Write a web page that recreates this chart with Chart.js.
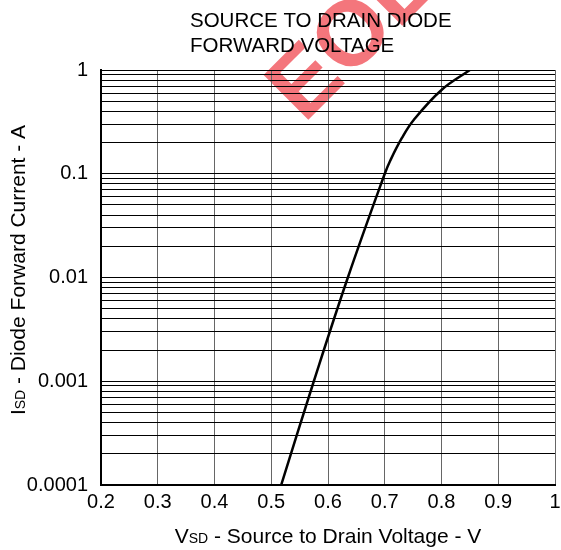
<!DOCTYPE html>
<html>
<head>
<meta charset="utf-8">
<script src="https://cdn.jsdelivr.net/npm/chart.js@4"></script>
<style>
  body { margin: 0; background: #fff; }
  #wrap { width: 561px; height: 550px; }
</style>
</head>
<body>
<div id="wrap"><canvas id="chart1"></canvas></div>
<script>
// data
const vsd = [0.5175, 0.575, 0.635, 0.700, 0.710, 0.730, 0.751, 0.800, 0.850];
const isd = [0.0001, 0.001, 0.01, 0.1, 0.135, 0.22, 0.33, 0.642, 1];
const xTicks = [0.2, 0.3, 0.4, 0.5, 0.6, 0.7, 0.8, 0.9, 1];
const yDecades = [0.0001, 0.001, 0.01, 0.1, 1];
const yLabels = ["0.0001", "0.001", "0.01", "0.1", "1"];

const FONT = "'Liberation Sans', Arial, sans-serif";

// minor ticks for log grid
const yGrid = [];
yDecades.forEach(function (d, i) {
  if (i == yDecades.length - 1) { yGrid.push(d); return; }
  for (let k = 1; k < 10; k++) yGrid.push(+(d * k).toPrecision(3));
});

function isDecade(v) {
  const l = Math.log10(v);
  return Math.abs(l - Math.round(l)) < 1e-6;
}

function drawParts(c, parts, x, y) {
  parts.forEach(function (p) {
    c.font = p[1] + "px " + FONT;
    c.fillText(p[0], x, y);
    x += c.measureText(p[0]).width;
  });
}
function partsWidth(c, parts) {
  let w = 0;
  parts.forEach(function (p) { c.font = p[1] + "px " + FONT; w += c.measureText(p[0]).width; });
  return w;
}

// #TEXT + WATERMARK
const decor = {
  id: "decor",
  beforeDraw(chart) {
    const c = chart.ctx;
    c.save();
    c.translate(304, 124);
    c.rotate(-Math.PI / 4);
    c.fillStyle = "rgb(244,118,124)";
    c.font = "bold 92px " + FONT;
    c.textBaseline = "alphabetic";
    c.fillText("EOL", 0, 0);
    c.restore();
  },
  afterDraw(chart) {
    const c = chart.ctx;
    c.save();
    c.fillStyle = "#000";
    c.font = "20.5px " + FONT;
    c.textBaseline = "alphabetic";
    c.fillText("SOURCE TO DRAIN DIODE", 190, 27);
    c.fillText("FORWARD VOLTAGE", 190, 52);

    // x title with subscript
    const parts = [["V", 21], ["SD", 14], [" - Source to Drain Voltage - V", 21]];
    drawParts(c, parts, 328 - partsWidth(c, parts) / 2, 543);

    // y title
    const yparts = [["I", 21], ["SD", 14], [" - Diode Forward Current - A", 21]];
    const w = partsWidth(c, yparts);
    c.translate(25, 270);
    c.rotate(-Math.PI / 2);
    drawParts(c, yparts, -w / 2, 0);
    c.restore();
  }
};

// #CHART
const ctx = document.getElementById("chart1");
new Chart(ctx, {
  type: "line",
  data: {
    datasets: [
      {
        data: vsd.map(function (v, i) { return { x: v, y: isd[i] }; }),
        borderColor: "#000",
        borderWidth: 2.5,
        pointRadius: 0,
        tension: 0.4,
        fill: false,
      },
    ],
  },
  options: {
    responsive: true,
    maintainAspectRatio: false,
    animation: false,
    layout: { padding: { top: 70, right: 0, left: 0, bottom: 0 } },
    plugins: {
      legend: { display: false },
      tooltip: { enabled: false },
    },
    scales: {
      x: {
        type: "linear",
        min: 0.2,
        max: 1,
        afterBuildTicks: function (s) { s.ticks = xTicks.map(function (v) { return { value: v }; }); },
        afterFit: function (s) { s.height = 65; s.paddingRight = 6; },
        ticks: {
          color: "#000",
          padding: 5,
          maxRotation: 0,
          font: { family: FONT, size: 20 },
          callback: function (v) { return String(+v.toFixed(1)); },
        },
        grid: { color: "#666", lineWidth: 1, drawTicks: false },
        border: { color: "#000", width: 2 },
      },
      y: {
        type: "logarithmic",
        min: 0.0001,
        max: 1,
        afterBuildTicks: function (s) { s.ticks = yGrid.map(function (v) { return { value: v }; }); },
        afterFit: function (s) { s.width = 101; },
        ticks: {
          color: "#000",
          padding: 13,
          autoSkip: false,
          font: { family: FONT, size: 20 },
          callback: function (v) {
            if (!isDecade(v)) return "";
            return yLabels[yDecades.findIndex(function (d) { return Math.abs(d - v) / d < 1e-6; })];
          },
        },
        grid: { color: "#000", lineWidth: 1, drawTicks: false },
        border: { color: "#000", width: 2 },
      },
    },
  },
  plugins: [decor],
});
</script>
</body>
</html>
